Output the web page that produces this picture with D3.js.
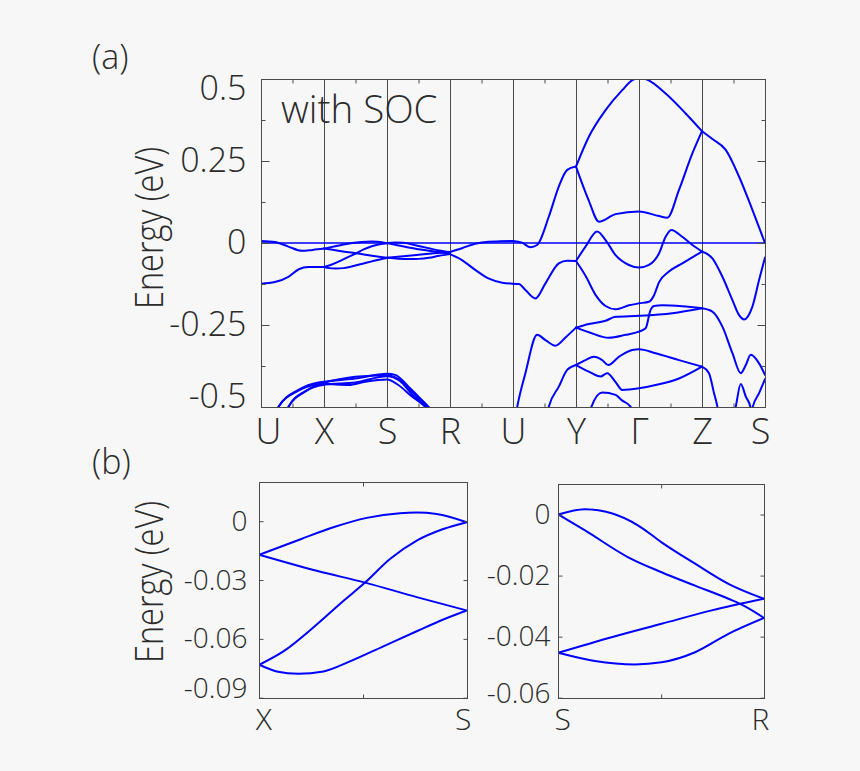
<!DOCTYPE html>
<html><head><meta charset="utf-8">
<script src="https://cdn.jsdelivr.net/npm/d3@7"></script>
<style>
html,body{margin:0;padding:0;background:#f7f7f7;}
svg{display:block;}
text{font-family:"Open Sans",sans-serif;font-weight:300;fill:#2b2b2b;}
</style></head><body>
<svg id="chart" width="860" height="771"></svg>
<script>
// ---------------- DATA ----------------
// Panel (a): high-symmetry path labels (k index 0..8)
const kLabelsA = ["U","X","S","R","U","Y","Γ","Z","S"];
const yTicksA = [0.5, 0.25, 0, -0.25, -0.5];
const yTickLabelsA = ["0.5","0.25","0","-0.25","-0.5"];

// Panel (b) left: X -> S (fraction of path, energy eV)
const xsBands = [
  [[0,-0.0171],[0.196,-0.0093],[0.357,-0.0031],[0.518,0.0017],[0.678,0.0041],[0.759,0.0044],[0.855,0.0037],[1,-0.0005]],
  [[0,-0.0171],[0.277,-0.0253],[0.51,-0.0313],[0.759,-0.0387],[1,-0.0455]],
  [[0,-0.0732],[0.116,-0.0664],[0.277,-0.0527],[0.405,-0.0407],[0.51,-0.0313],[0.63,-0.0193],[0.759,-0.0099],[0.887,-0.004],[1,-0.0005]],
  [[0,-0.0732],[0.084,-0.0766],[0.188,-0.0778],[0.309,-0.0766],[0.437,-0.0715],[0.598,-0.0638],[0.759,-0.0561],[0.887,-0.0501],[1,-0.0455]]
];
const xsLabels = ["X","S"];
const yTicksBL = [0, -0.03, -0.06, -0.09];
const yTickLabelsBL = ["0","-0.03","-0.06","-0.09"];

// Panel (b) right: S -> R
const srBands = [
  [[0,0],[0.13,0.0017],[0.259,0.0004],[0.389,-0.0036],[0.502,-0.0091],[0.665,-0.0161],[0.827,-0.0227],[1,-0.0276]],
  [[0,0],[0.13,-0.0052],[0.34,-0.014],[0.502,-0.0189],[0.665,-0.0233],[0.827,-0.0276],[0.908,-0.0301],[1,-0.0339]],
  [[0,-0.0453],[0.259,-0.0402],[0.502,-0.0358],[0.746,-0.0314],[1,-0.0276]],
  [[0,-0.0453],[0.178,-0.048],[0.373,-0.0491],[0.502,-0.0484],[0.665,-0.0451],[0.827,-0.0391],[1,-0.0339]]
];
const srLabels = ["S","R"];
const yTicksBR = [0, -0.02, -0.04, -0.06];
const yTickLabelsBR = ["0","-0.02","-0.04","-0.06"];

// Panel (a) bands: [k, E]
const bandsUX = [
  [[0,0.006],[0.22,0.003],[0.435,-0.011],[0.65,-0.024],[0.82,-0.021],[1,-0.0171]],
  [[0,-0.124],[0.22,-0.119],[0.435,-0.103],[0.6,-0.08],[0.75,-0.073],[1,-0.0732]]
];
const bandsRU = [
  [[3,-0.0276],[3.19,-0.016],[3.4,-0.002],[3.61,0.004],[3.8,0.005],[4,0.006]],
  [[3,-0.0339],[3.19,-0.052],[3.4,-0.082],[3.61,-0.108],[3.83,-0.121],[4,-0.124]]
];
const valenceUR = [
  [[0.2,-0.53],[0.276,-0.5],[0.594,-0.448],[0.91,-0.425],[1,-0.423],[1.494,-0.413],[2,-0.399],[2.13,-0.402],[2.342,-0.438],[2.554,-0.479],[2.7,-0.51]],
  [[0.37,-0.53],[0.435,-0.5],[0.7,-0.453],[1,-0.43],[1.39,-0.433],[1.653,-0.423],[2,-0.416],[2.18,-0.433],[2.395,-0.468],[2.607,-0.5],[2.65,-0.51]],
  [[0.2,-0.53],[0.276,-0.5],[0.594,-0.45],[1,-0.426],[1.494,-0.408],[2,-0.403],[2.236,-0.422],[2.448,-0.463],[2.66,-0.5],[2.7,-0.51]],
  [[0.37,-0.53],[0.435,-0.5],[0.7,-0.452],[1,-0.432],[1.5,-0.425],[2,-0.406],[2.2,-0.42],[2.4,-0.462],[2.62,-0.5],[2.66,-0.51]]
];
const bandsUS = [
  // R1
  [[4,0.006],[4.144,0.001],[4.277,-0.013],[4.383,-0.006],[4.568,0.08],[4.727,0.172],[4.86,0.223],[5,0.233]],
  [[5,0.233],[5.204,0.324],[5.469,0.405],[5.734,0.466],[5.9,0.497],[6,0.503],[6.105,0.5],[6.423,0.456],[6.741,0.395],[7,0.341]],
  [[5,0.233],[5.2,0.131],[5.363,0.065],[5.628,0.088],[6,0.096],[6.317,0.082],[6.449,0.077],[6.635,0.162],[6.847,0.273],[7,0.341]],
  [[7,0.341],[7.165,0.317],[7.377,0.284],[7.589,0.202],[7.8,0.101],[8,0]],
  // R2
  [[4,-0.124],[4.091,-0.125],[4.197,-0.143],[4.356,-0.169],[4.515,-0.123],[4.727,-0.062],[4.86,-0.054],[5,-0.055]],
  [[5,-0.055],[5.151,-0.011],[5.336,0.035],[5.469,0.009],[5.628,-0.037],[5.84,-0.067],[6,-0.075],[6.158,-0.067],[6.317,-0.032],[6.423,0.019],[6.513,0.04],[6.688,0.019],[6.847,-0.006],[7,-0.026]],
  [[5,-0.055],[5.151,-0.1],[5.31,-0.158],[5.469,-0.192],[5.628,-0.202],[5.84,-0.19],[6,-0.184],[6.158,-0.179],[6.237,-0.16],[6.317,-0.12],[6.476,-0.087],[6.688,-0.062],[7,-0.026]],
  [[7,-0.026],[7.165,-0.047],[7.324,-0.103],[7.483,-0.174],[7.589,-0.22],[7.668,-0.233],[7.8,-0.194],[7.906,-0.113],[8,-0.044]],
  // R3
  [[4.04,-0.53],[4.065,-0.502],[4.197,-0.397],[4.383,-0.28],[4.515,-0.296],[4.674,-0.313],[4.833,-0.288],[5,-0.258]],
  [[5,-0.258],[5.204,-0.247],[5.469,-0.237],[5.628,-0.225],[6,-0.222],[6.529,-0.214],[7,-0.199]],
  [[5,-0.258],[5.204,-0.272],[5.52,-0.289],[5.787,-0.28],[6,-0.27],[6.105,-0.26],[6.184,-0.204],[6.237,-0.192],[6.37,-0.19],[6.688,-0.193],[7,-0.199]],
  [[7,-0.199],[7.165,-0.209],[7.324,-0.255],[7.483,-0.336],[7.615,-0.397],[7.695,-0.372],[7.774,-0.341],[7.906,-0.367],[8,-0.402]],
  // R4
  [[4.53,-0.53],[4.568,-0.499],[4.727,-0.438],[4.86,-0.387],[5,-0.372]],
  [[5,-0.372],[5.151,-0.357],[5.283,-0.347],[5.416,-0.357],[5.511,-0.372],[5.68,-0.347],[5.893,-0.326],[6,-0.324],[6.264,-0.336],[6.635,-0.357],[7,-0.377]],
  [[5,-0.372],[5.204,-0.392],[5.39,-0.407],[5.495,-0.397],[5.628,-0.424],[5.734,-0.448],[6,-0.443],[6.264,-0.433],[6.635,-0.413],[7,-0.377]],
  [[7,-0.377],[7.111,-0.397],[7.191,-0.458],[7.244,-0.499],[7.27,-0.53]],
  // R5
  [[5.22,-0.53],[5.246,-0.499],[5.416,-0.456],[5.628,-0.463],[5.724,-0.479],[5.866,-0.499],[5.9,-0.53]],
  // near S bottom
  [[7.5,-0.53],[7.536,-0.499],[7.615,-0.43],[7.695,-0.468],[7.774,-0.504],[7.79,-0.53]],
  [[7.78,-0.53],[7.8,-0.504],[7.906,-0.458],[8,-0.415]]
];

// ---------------- DRAW ----------------
const svg = d3.select("#chart");
const BLUE = "#0000ff", GRID = "#4a4a4a";
const px = v => Math.round(v) + 0.5;   // crisp 1px lines

function drawPanel(cfg) {
  const g = svg.append("g");
  const x = d3.scaleLinear().domain(cfg.xDomain).range([cfg.left, cfg.right]);
  const y = d3.scaleLinear().domain(cfg.yDomain).range([cfg.bottom, cfg.top]);
  const clipId = "clip-" + cfg.id;
  svg.append("clipPath").attr("id", clipId).append("rect")
    .attr("x", cfg.left).attr("y", cfg.top)
    .attr("width", cfg.right - cfg.left).attr("height", cfg.bottom - cfg.top);

  g.selectAll(".vl").data(cfg.vlines || []).join("line")
    .attr("x1", d => px(x(d))).attr("x2", d => px(x(d)))
    .attr("y1", cfg.top).attr("y2", cfg.bottom)
    .attr("stroke", GRID).attr("stroke-width", 1);

  if (cfg.fermi) {
    g.append("line").attr("x1", x(cfg.xDomain[0])).attr("x2", x(cfg.xDomain[1]))
      .attr("y1", y(0)).attr("y2", y(0)).attr("stroke", BLUE).attr("stroke-width", 1.5);
  }

  const line = d3.line().x(d => x(d[0])).y(d => y(d[1])).curve(d3.curveMonotoneX);
  g.append("g").attr("clip-path", `url(#${clipId})`)
    .selectAll("path").data(cfg.bands).join("path")
    .attr("d", line).attr("fill", "none").attr("stroke", BLUE)
    .attr("stroke-width", 2).attr("stroke-linejoin", "round").attr("stroke-linecap", "round");

  const L = px(cfg.left), R = px(cfg.right), T = px(cfg.top), B = px(cfg.bottom);
  // y axis left with labels
  const yl = cfg.yTicks;
  const yAx = g.append("g").attr("transform", `translate(${L},0)`)
    .call(d3.axisLeft(y).tickValues(yl).tickFormat((d, i) => cfg.yLabels[i])
      .tickSizeInner(-cfg.tickLen).tickSizeOuter(0).tickPadding(cfg.yPad));
  yAx.select(".domain").remove();
  yAx.selectAll(".tick line").attr("stroke", GRID);
  yAx.selectAll(".tick text").style("font-size", cfg.yFont + "px")
    .attr("transform", d => d === cfg.yDomain[1] ? `translate(0,${cfg.yEdge})` :
                             d === cfg.yDomain[0] ? `translate(0,${-cfg.yEdge})` : null);
  // y axis right ticks
  const yAr = g.append("g").attr("transform", `translate(${R},0)`)
    .call(d3.axisRight(y).tickValues(yl).tickFormat("").tickSizeInner(-cfg.tickLen).tickSizeOuter(0));
  yAr.select(".domain").remove();
  yAr.selectAll(".tick line").attr("stroke", GRID);
  // minor ticks
  if (cfg.yMinor) {
    [[L, d3.axisLeft], [R, d3.axisRight]].forEach(([p, ax]) => {
      const a = g.append("g").attr("transform", `translate(${p},0)`)
        .call(ax(y).tickValues(cfg.yMinor).tickFormat("").tickSizeInner(-cfg.minorLen).tickSizeOuter(0));
      a.select(".domain").remove();
      a.selectAll(".tick line").attr("stroke", GRID);
    });
  }
  if (cfg.xMinor) {
    [[T, d3.axisTop], [B, d3.axisBottom]].forEach(([p, ax]) => {
      const a = g.append("g").attr("transform", `translate(0,${p})`)
        .call(ax(x).tickValues(cfg.xMinor).tickFormat("").tickSizeInner(-cfg.minorLen).tickSizeOuter(0));
      a.select(".domain").remove();
      a.selectAll(".tick line").attr("stroke", GRID);
    });
  }
  // x axis labels
  const xAx = g.append("g").attr("transform", `translate(0,${cfg.bottom})`)
    .call(d3.axisBottom(x).tickValues(cfg.xTicks).tickFormat((d, i) => cfg.xLabels[i])
      .tickSizeInner(0).tickSizeOuter(0).tickPadding(cfg.xPad));
  xAx.select(".domain").remove();
  xAx.selectAll(".tick line").remove();
  xAx.selectAll(".tick text").style("font-size", cfg.xFont + "px")
    .attr("transform", d => d === cfg.xDomain[0] ? `translate(${cfg.xEdge[0]},0)` :
                             d === cfg.xDomain[1] ? `translate(${cfg.xEdge[1]},0)` : null);

  // box
  g.append("rect").attr("x", L).attr("y", T)
    .attr("width", R - L).attr("height", B - T)
    .attr("fill", "none").attr("stroke", GRID).attr("stroke-width", 1);
  return {x, y};
}

const bandsA = [
  ...bandsUX,
  ...xsBands.map(b => b.map(([f, e]) => [1 + f, e])),
  ...srBands.map(b => b.map(([f, e]) => [2 + f, e])),
  ...bandsRU,
  ...valenceUR,
  ...bandsUS
];

drawPanel({
  id: "a", left: 261, right: 765, top: 79, bottom: 407,
  xDomain: [0, 8], yDomain: [-0.5, 0.5],
  vlines: d3.range(1, 8), fermi: true, bands: bandsA,
  yTicks: yTicksA, yLabels: yTickLabelsA, yPad: 15, yFont: 34, yEdge: 10,
  tickLen: 8, minorLen: 4,
  yMinor: [0.375, 0.125, -0.125, -0.375],
  xMinor: d3.range(0.5, 8, 1),
  xTicks: d3.range(0, 9), xLabels: kLabelsA, xPad: 11, xFont: 36, xEdge: [7, -5]
});

drawPanel({
  id: "bl", left: 259.3, right: 466.7, top: 482, bottom: 697.7,
  xDomain: [0, 1], yDomain: [-0.09, 0.02],
  vlines: [], fermi: false, bands: xsBands,
  yTicks: yTicksBL, yLabels: yTickLabelsBL, yPad: 12, yFont: 28, yEdge: 9,
  tickLen: 4, minorLen: 4, xMinor: [0.5],
  xTicks: [0, 1], xLabels: xsLabels, xPad: 11, xFont: 30, xEdge: [4, -4]
});

drawPanel({
  id: "br", left: 558.3, right: 764, top: 484, bottom: 697.7,
  xDomain: [0, 1], yDomain: [-0.06, 0.01],
  vlines: [], fermi: false, bands: srBands,
  yTicks: yTicksBR, yLabels: yTickLabelsBR, yPad: 8, yFont: 28, yEdge: 4,
  tickLen: 4, minorLen: 4, xMinor: [0.5],
  xTicks: [0, 1], xLabels: srLabels, xPad: 11, xFont: 30, xEdge: [4, -4]
});

// titles / labels
svg.append("text").attr("x", 92).attr("y", 69).style("font-size", "34px").text("(a)");
svg.append("text").attr("x", 92).attr("y", 474).style("font-size", "34px").text("(b)");
svg.append("text").attr("x", 281).attr("y", 123).style("font-size", "38.5px").text("with SOC");
[[228], [582]].forEach(([cy]) => {
  svg.append("text").attr("transform", `translate(163,${cy}) rotate(-90)`)
    .attr("text-anchor", "middle").style("font-size", "38px")
    .attr("textLength", 162).attr("lengthAdjust", "spacingAndGlyphs")
    .text("Energy (eV)");
});
</script>
</body></html>
